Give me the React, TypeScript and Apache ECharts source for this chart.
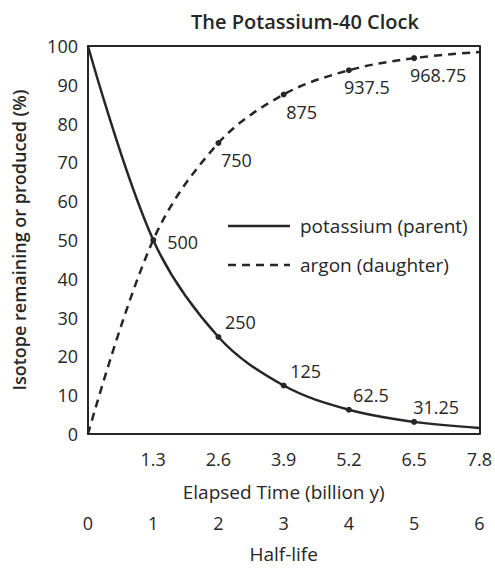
import React, { useEffect, useRef } from "react";
import * as echarts from "echarts";

const titleText = "The Potassium-40 Clock";
const timeTicks = [0, 1.3, 2.6, 3.9, 5.2, 6.5, 7.8];
const halfLives = [0, 1, 2, 3, 4, 5, 6];
const potassium = [100, 50, 25, 12.5, 6.25, 3.125, 1.5625];
const argon = [0, 50, 75, 87.5, 93.75, 96.875, 98.4375];
const potassiumLabels = ["", "500", "250", "125", "62.5", "31.25", ""];
const argonLabels = ["", "", "750", "875", "937.5", "968.75", ""];
const seriesNames = ["potassium (parent)", "argon (daughter)"];

const FONT = "'Open Sans', 'Noto Sans', sans-serif";
const INK = "#262626";
const FS = 18;

export default function App() {
  const ref = useRef<HTMLDivElement>(null);
  useEffect(() => {
    document.body.style.margin = "0";
    const chart = echarts.init(ref.current!, null, { renderer: "svg" });
    const mk = (vals: number[], labels: string[], pos: string, off: number[]) =>
      vals.map((v, i) => ({
        value: [timeTicks[i], v],
        symbol: labels[i] ? "circle" : "none",
        label: {
          show: !!labels[i],
          formatter: labels[i],
          position: pos,
          offset: off,
        },
      }));
    const kData = mk(potassium, potassiumLabels, "top", [22, 2]);
    (kData[1] as any).label = { show: true, formatter: potassiumLabels[1], position: "right", offset: [6, 2] };
    const arData = mk(argon, argonLabels, "bottom", [18, 0]);
    (arData[5] as any).label = { show: true, formatter: argonLabels[5], position: "bottom", offset: [24, 0] };
    chart.setOption({
      animation: false,
      textStyle: { fontFamily: FONT, color: INK },
      title: {
        text: titleText,
        left: 300,
        top: 6,
        textAlign: "center",
        textStyle: { fontFamily: FONT, fontSize: 20, fontWeight: 600, color: INK },
      },
      grid: { left: 88, right: 12, top: 46, bottom: 128 },
      xAxis: [
        {
          type: "value",
          min: 0,
          max: 7.8,
          interval: 1.3,
          position: "bottom",
          name: "Elapsed Time (billion y)",
          nameLocation: "middle",
          nameGap: 48,
          nameTextStyle: { fontSize: 19, color: INK, fontFamily: FONT, fontWeight: 500 },
          axisLine: { lineStyle: { color: INK, width: 2 } },
          axisTick: { show: false },
          splitLine: { show: false },
          axisLabel: {
            fontSize: FS,
            color: INK,
            margin: 16,
            formatter: (v: number) => (v === 0 ? "" : v.toFixed(1)),
          },
        },
        {
          type: "value",
          min: 0,
          max: 7.8,
          position: "top",
          axisLine: { show: true, onZero: false, lineStyle: { color: INK, width: 2 } },
          axisTick: { show: false },
          axisLabel: { show: false },
          splitLine: { show: false },
        },
        {
          type: "value",
          min: 0,
          max: 6,
          interval: 1,
          position: "bottom",
          offset: 72,
          name: "Half-life",
          nameLocation: "middle",
          nameGap: 38,
          nameTextStyle: { fontSize: 19, color: INK, fontFamily: FONT, fontWeight: 500 },
          axisLine: { show: false },
          axisTick: { show: false },
          splitLine: { show: false },
          axisLabel: { fontSize: FS, color: INK, margin: 8, formatter: (v: number) => String(halfLives[v]) },
        },
      ],
      yAxis: [
        {
          type: "value",
          min: 0,
          max: 100,
          interval: 10,
          name: "Isotope remaining or produced (%)",
          nameLocation: "middle",
          nameGap: 60,
          nameTextStyle: { fontSize: 18, fontWeight: 600, color: INK, fontFamily: FONT },
          axisLine: { show: true, lineStyle: { color: INK, width: 2 } },
          axisTick: { show: false },
          splitLine: { show: false },
          axisLabel: { fontSize: FS, color: INK, margin: 10 },
        },
        {
          type: "value",
          min: 0,
          max: 100,
          position: "right",
          axisLine: { show: true, onZero: false, lineStyle: { color: INK, width: 2 } },
          axisTick: { show: false },
          axisLabel: { show: false },
          splitLine: { show: false },
        },
      ],
      series: [
        {
          name: seriesNames[0],
          type: "line",
          data: kData,
          smooth: 0.35,
          symbolSize: 6,
          itemStyle: { color: INK },
          lineStyle: { color: INK, width: 2.5 },
          label: { fontSize: FS, color: INK, fontFamily: FONT },
        },
        {
          name: seriesNames[1],
          type: "line",
          data: arData,
          smooth: 0.35,
          symbolSize: 6,
          itemStyle: { color: INK },
          lineStyle: { color: INK, width: 2.5, type: [8, 6] },
          label: { fontSize: FS, color: INK, fontFamily: FONT },
        },
      ],
      graphic: [
        { type: "line", shape: { x1: 228, y1: 226, x2: 290, y2: 226 }, style: { stroke: INK, lineWidth: 2.5 } },
        { type: "text", x: 300, y: 226, style: { text: seriesNames[0], fill: INK, font: `19px ${FONT}`, textVerticalAlign: "middle" } },
        { type: "line", shape: { x1: 228, y1: 265, x2: 290, y2: 265 }, style: { stroke: INK, lineWidth: 2.5, lineDash: [8, 6] } },
        { type: "text", x: 300, y: 265, style: { text: seriesNames[1], fill: INK, font: `19px ${FONT}`, textVerticalAlign: "middle" } },
      ],
    });
    return () => chart.dispose();
  }, []);
  return <div ref={ref} style={{ width: 495, height: 568, background: "#fff" }} />;
}
